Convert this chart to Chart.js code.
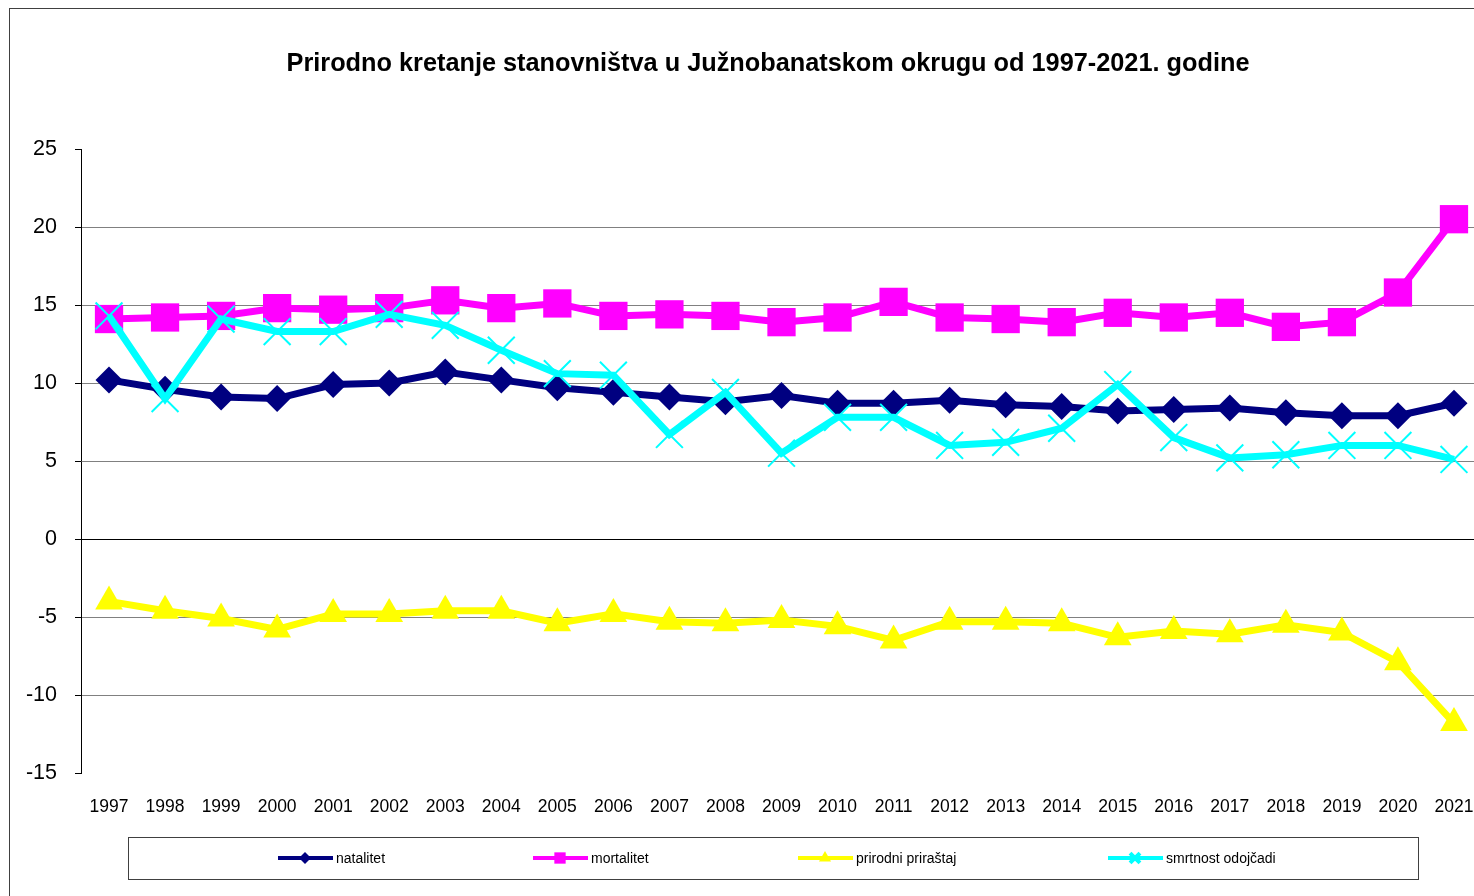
<!DOCTYPE html>
<html>
<head>
<meta charset="utf-8">
<title>Prirodno kretanje stanovništva</title>
<script src="https://cdn.jsdelivr.net/npm/chart.js@4.4.1/dist/chart.umd.min.js"></script>
<style>
  html, body { margin: 0; padding: 0; background: #fff; overflow: hidden; }
  #chart { display: block; }
</style>
</head>
<body>
<canvas id="chart" width="1530" height="896"></canvas>
<script>
// values
const years = ['1997', '1998', '1999', '2000', '2001', '2002', '2003', '2004', '2005', '2006', '2007', '2008', '2009',
    '2010', '2011', '2012', '2013', '2014', '2015', '2016', '2017', '2018', '2019', '2020', '2021'];
const natalitet = [10.2, 9.6, 9.1, 9.0, 9.9, 10.0, 10.7, 10.2, 9.7, 9.4, 9.1, 8.8, 9.2,
    8.7, 8.7, 8.9, 8.6, 8.5, 8.2, 8.3, 8.4, 8.1, 7.9, 7.9, 8.7];
const mortalitet = [14.1, 14.2, 14.3, 14.8, 14.7, 14.8, 15.3, 14.8, 15.1, 14.3, 14.4, 14.3, 13.9,
    14.2, 15.2, 14.2, 14.1, 13.9, 14.5, 14.2, 14.5, 13.6, 13.9, 15.8, 20.5];
const prirodniPrirastaj = [-4.0, -4.6, -5.1, -5.8, -4.8, -4.8, -4.6, -4.6, -5.4, -4.8, -5.3, -5.4, -5.2,
    -5.6, -6.5, -5.3, -5.3, -5.4, -6.3, -5.9, -6.1, -5.5, -6.0, -7.9, -11.8];
const smrtnostOdojcadi = [14.3, 9.0, 14.1, 13.3, 13.3, 14.4, 13.7, 12.1, 10.6, 10.5, 6.7, 9.4, 5.5,
    7.8, 7.8, 6.0, 6.2, 7.1, 9.9, 6.5, 5.2, 5.4, 6.0, 6.0, 5.1];
const yMin = -15, yMax = 25, yStep = 5;

const titleText = 'Prirodno kretanje stanovništva u Južnobanatskom okrugu od 1997-2021. godine';
const FONT = '"Liberation Sans", Arial, sans-serif';

// legend item positions (x of line start)
const legendX = [278, 533, 798, 1108];

const framePlugin = {
    id: 'frame',
    beforeDraw(chart) {
        const c = chart.ctx;
        c.save();
        c.strokeStyle = '#404040';
        c.lineWidth = 1;
        c.strokeRect(9.5, 8.5, chart.width - 12, chart.height + 20);
        c.restore();
    },
    afterDraw(chart) {
        const c = chart.ctx;
        c.save();
        // title
        c.fillStyle = '#000';
        c.font = 'bold 25.3px ' + FONT;
        c.textAlign = 'center';
        c.textBaseline = 'middle';
        c.fillText(titleText, 768, 64);

        // legend box
        c.strokeStyle = '#404040';
        c.lineWidth = 1;
        c.strokeRect(128.5, 837.5, 1290, 42);
        c.font = '14px ' + FONT;
        c.textAlign = 'left';
        chart.data.datasets.forEach((ds, i) => {
            const x = legendX[i], y = 858;
            c.strokeStyle = ds.borderColor;
            c.lineWidth = 4;
            c.beginPath();
            c.moveTo(x, y);
            c.lineTo(x + 55, y);
            c.stroke();
            c.fillStyle = ds.pointBackgroundColor;
            c.strokeStyle = ds.pointBorderColor;
            Chart.helpers.drawPoint(c, {
                pointStyle: ds.pointStyle,
                radius: ds.legendRadius,
                rotation: 0,
                borderWidth: ds.pointBorderWidth
            }, x + 27, y);
            c.fillStyle = '#000';
            c.fillText(ds.label, x + 58, y + 1);
        });
        c.restore();
    }
};

const ctx = document.getElementById('chart').getContext('2d');
const myChart = new Chart(ctx, {
    type: 'line',
    data: {
        labels: years,
        datasets: [{
            label: 'natalitet',
            data: natalitet,
            borderColor: '#000080',
            borderWidth: 7,
            pointStyle: 'rectRot',
            pointRadius: 13.5,
            pointBackgroundColor: '#000080',
            pointBorderColor: '#000080',
            pointBorderWidth: 0,
            legendRadius: 6,
            order: 2
        }, {
            label: 'mortalitet',
            data: mortalitet,
            borderColor: '#FF00FF',
            borderWidth: 7,
            pointStyle: 'rect',
            pointRadius: 20,
            pointBackgroundColor: '#FF00FF',
            pointBorderColor: '#FF00FF',
            pointBorderWidth: 0,
            legendRadius: 8,
            order: 3
        }, {
            label: 'prirodni priraštaj',
            data: prirodniPrirastaj,
            borderColor: '#FFFF00',
            borderWidth: 7,
            pointStyle: 'triangle',
            pointRadius: 16,
            pointBackgroundColor: '#FFFF00',
            pointBorderColor: '#FFFF00',
            pointBorderWidth: 0,
            legendRadius: 7,
            order: 4
        }, {
            label: 'smrtnost odojčadi',
            data: smrtnostOdojcadi,
            borderColor: '#00FFFF',
            borderWidth: 7,
            pointStyle: 'crossRot',
            pointRadius: 19,
            pointBackgroundColor: '#00FFFF',
            pointBorderColor: '#00FFFF',
            pointBorderWidth: 2,
            legendRadius: 7,
            order: 1
        }]
    },
    options: {
        responsive: false,
        animation: false,
        devicePixelRatio: 1,
        layout: {
            padding: { left: 0, right: 48, top: 149, bottom: 0 }
        },
        plugins: {
            legend: { display: false },
            title: { display: false },
            tooltip: { enabled: false }
        },
        elements: {
            line: { tension: 0 }
        },
        scales: {
            x: {
                offset: true,
                grid: { display: false, drawTicks: false },
                border: { display: false },
                ticks: {
                    color: '#000',
                    font: { family: FONT, size: 17.5 },
                    padding: 24,
                    maxRotation: 0,
                    autoSkip: false
                },
                afterFit(scale) { scale.height = 123; }
            },
            y: {
                min: yMin,
                max: yMax,
                ticks: {
                    stepSize: yStep,
                    color: '#000',
                    font: { family: FONT, size: 21.5 },
                    padding: 18
                },
                grid: {
                    tickLength: 6,
                    tickColor: '#000',
                    lineWidth: 1,
                    color: function(context){
                        const v = context.tick ? context.tick.value : null;
                        if (v === 0) return '#000';
                        if (v === yMin || v === yMax) return 'rgba(0,0,0,0)';
                        return '#808080';
                    }
                },
                border: { display: true, color: '#000', width: 1 },
                afterFit(scale) { scale.width = 81; }
            }
        }
    },
    plugins: [framePlugin]
});
</script>
</body>
</html>
